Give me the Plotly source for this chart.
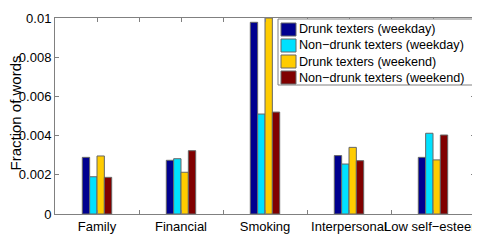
import plotly.graph_objects as go

categories = ["Family", "Financial", "Smoking", "Interpersonal", "Low self\u2212esteem"]
series_names = ["Drunk texters (weekday)", "Non\u2212drunk texters (weekday)",
                "Drunk texters (weekend)", "Non\u2212drunk texters (weekend)"]
drunk_weekday = [0.00289, 0.00274, 0.00978, 0.00298, 0.00289]
nondrunk_weekday = [0.00190, 0.00282, 0.00510, 0.00255, 0.00412]
drunk_weekend = [0.00296, 0.00213, 0.01000, 0.00340, 0.00276]
nondrunk_weekend = [0.00187, 0.00323, 0.00520, 0.00272, 0.00403]
colors = ["#00008F", "#00E1FF", "#FFCC00", "#800000"]
y_ticks = [0, 0.002, 0.004, 0.006, 0.008, 0.01]
y_ticklabels = ["0", "0.002", "0.004", "0.006", "0.008", "0.01"]

# page body has an 8px default margin; lay out in screen pixels
OFF = 8
SW, SH = 480, 241
PL, PR, PT, PB = 55, 475, 18, 214  # plot area in screen pixels
W, H = SW - OFF, SH - OFF
ML, MT = PL - OFF, PT - OFF
MR, MB = W - (PR - OFF), H - (PB - OFF)
PW, PH = PR - PL, PB - PT


def px_x(p):
    return (p - PL) / PW


def px_y(p):
    return (PB - p) / PH


xpos = [i + 1 for i in range(len(categories))]
values = [drunk_weekday, nondrunk_weekday, drunk_weekend, nondrunk_weekend]

fig = go.Figure()
for name, vals, col in zip(series_names, values, colors):
    fig.add_trace(go.Bar(x=xpos, y=vals, name=name, showlegend=False,
                         marker=dict(color=col, line=dict(color="#666666", width=1))))

tickvals = []
ticktext = []
for i, c in enumerate(categories):
    tickvals.append(i + 1)
    ticktext.append(c)
    if i < len(categories) - 1:
        tickvals.append(i + 1.5)
        ticktext.append("")

axis_color = "#808080"

# custom legend (MATLAB style)
shapes = [dict(type="rect", xref="paper", yref="paper",
               x0=px_x(278), x1=px_x(473), y0=px_y(85), y1=px_y(19),
               fillcolor="white", line=dict(color=axis_color, width=1), layer="above")]
annotations = []
for k, (name, col) in enumerate(zip(series_names, colors)):
    cy = 29.5 + 16 * k
    shapes.append(dict(type="rect", xref="paper", yref="paper",
                       x0=px_x(281), x1=px_x(296), y0=px_y(cy + 6.5), y1=px_y(cy - 6.5),
                       fillcolor=col, line=dict(color="#666666", width=1), layer="above"))
    annotations.append(dict(text=name, xref="paper", yref="paper",
                            x=px_x(297), y=px_y(cy), xanchor="left", yanchor="middle",
                            showarrow=False, font=dict(size=12.6, color="black")))

annotations.append(dict(text="Fraction of words", xref="paper", yref="paper",
                        x=px_x(14.5), y=px_y(113), xanchor="center", yanchor="middle",
                        textangle=-90, showarrow=False, borderpad=0,
                        font=dict(size=15, color="black")))

fig.update_layout(
    width=W, height=H,
    margin=dict(l=ML, r=MR, t=MT, b=MB),
    paper_bgcolor="white", plot_bgcolor="white",
    barmode="group", bargap=0.65, bargroupgap=0,
    font=dict(family="Arial", size=13, color="black"),
    showlegend=False,
    shapes=shapes, annotations=annotations,
    xaxis=dict(range=[0.5, 5.5], tickvals=tickvals, ticktext=ticktext,
               tickangle=0, automargin=False, ticklabeloverflow="allow",
               ticks="inside", ticklen=4, tickcolor=axis_color,
               showline=True, linecolor=axis_color, linewidth=1, mirror="ticks",
               showgrid=False, zeroline=False, tickfont=dict(size=13)),
    yaxis=dict(range=[0, 0.01], tickvals=y_ticks, ticktext=y_ticklabels,
               automargin=False,
               ticks="inside", ticklen=4, tickcolor=axis_color,
               showline=True, linecolor=axis_color, linewidth=1, mirror="ticks",
               showgrid=False, zeroline=False, tickfont=dict(size=13)),
)
fig.write_html("out.html")
